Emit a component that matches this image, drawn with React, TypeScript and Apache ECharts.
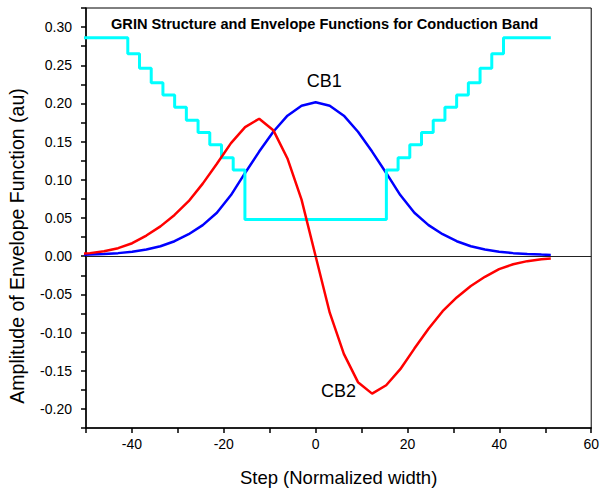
import React, { useEffect, useRef } from "react";
import * as echarts from "echarts";

// Sample positions along the structure (normalized width units)
const sampleX = [
  -51.2, -49.15, -46.08, -43.01, -39.94, -36.86, -33.79, -30.72, -27.65, -24.58,
  -21.5, -18.43, -15.36, -12.29, -9.22, -6.14, -3.07, 0, 3.07, 6.14, 9.22, 12.29,
  15.36, 18.43, 21.5, 24.58, 27.65, 30.72, 33.79, 36.86, 39.94, 43.01, 46.08, 49.15, 51.2,
];

// Ground state envelope (CB1)
const cb1Values = [
  0.0017, 0.0021, 0.0029, 0.004, 0.0058, 0.0087, 0.013, 0.0196, 0.0288, 0.0407,
  0.0568, 0.08, 0.109, 0.137, 0.163, 0.184, 0.197, 0.2016, 0.197, 0.184, 0.163, 0.137,
  0.109, 0.08, 0.0568, 0.0407, 0.0288, 0.0196, 0.013, 0.0087, 0.0058, 0.004, 0.0029, 0.0021, 0.0017,
];

// First excited state envelope (CB2)
const cb2Values = [
  0.003, 0.004, 0.0065, 0.0105, 0.017, 0.027, 0.039, 0.054, 0.072, 0.095,
  0.121, 0.148, 0.169, 0.18, 0.165, 0.128, 0.074, 0, -0.074, -0.128, -0.165, -0.18,
  -0.169, -0.148, -0.121, -0.095, -0.072, -0.054, -0.039, -0.027, -0.017, -0.0105, -0.0065, -0.004, -0.003,
];

// GRIN profile: positions of the steps and the level of each flat segment
const grinStart = -51.2;
const grinEnd = 51.2;
const grinEdges = [
  -40.9, -38.35, -35.8, -33.25, -30.7, -28.15, -25.6, -23.05, -20.5, -17.95, -15.4,
  15.4, 17.95, 20.5, 23.05, 25.6, 28.15, 30.7, 33.25, 35.8, 38.35, 40.9,
];
const grinLevels = [
  0.286, 0.265, 0.246, 0.227, 0.211, 0.195, 0.178, 0.162, 0.146, 0.129, 0.113,
  0.048,
  0.113, 0.129, 0.146, 0.162, 0.178, 0.195, 0.211, 0.227, 0.246, 0.265, 0.286,
];

// Curve annotations
const curveLabels = [
  { name: "CB1", x: 1.9, y: 0.23 },
  { name: "CB2", x: 5.0, y: -0.177 },
];

const FONT = "'Liberation Sans', Arial, Helvetica, sans-serif";

function buildGrin(): number[][] {
  const pts: number[][] = [[grinStart, grinLevels[0]]];
  grinEdges.forEach((x, i) => {
    pts.push([x, grinLevels[i]]);
    pts.push([x, grinLevels[i + 1]]);
  });
  pts.push([grinEnd, grinLevels[grinLevels.length - 1]]);
  return pts;
}

function labelPoint(name: string) {
  const l = curveLabels.find((c) => c.name === name)!;
  return {
    symbol: "rect",
    symbolSize: 1,
    itemStyle: { color: "rgba(0,0,0,0)" },
    label: {
      show: true,
      position: "inside",
      formatter: l.name,
      color: "#000",
      fontSize: 18,
      fontFamily: FONT,
    },
    data: [{ coord: [l.x, l.y] }],
  };
}

export default function App() {
  const ref = useRef<HTMLDivElement>(null);

  useEffect(() => {
    if (!ref.current) return;
    const chart = echarts.init(ref.current, undefined, { renderer: "svg" });
    const isMultiple = (v: number, step: number) =>
      Math.abs(v / step - Math.round(v / step)) < 1e-6;

    chart.setOption({
      animation: false,
      backgroundColor: "#fff",
      title: {
        text: "GRIN Structure and Envelope Functions for Conduction Band",
        left: 106,
        top: 11,
        textStyle: { fontSize: 14.6, fontWeight: "bold", color: "#000", fontFamily: FONT },
      },
      graphic: [
        {
          type: "text",
          left: 7,
          top: "middle",
          y: 11,
          rotation: Math.PI / 2,
          style: {
            text: "Amplitude of Envelope Function (au)",
            fontSize: 19.5,
            fill: "#000",
            fontFamily: FONT,
          },
        },
      ],
      grid: {
        left: 86,
        right: 9,
        top: 8,
        bottom: 63,
        show: true,
        borderColor: "#000",
        borderWidth: 1,
        backgroundColor: "transparent",
      },
      xAxis: {
        type: "value",
        min: -50,
        max: 60,
        interval: 10,
        name: "Step (Normalized width)",
        nameLocation: "middle",
        nameGap: 40,
        nameTextStyle: { fontSize: 18.5, color: "#000", fontFamily: FONT },
        axisLine: { onZero: false, lineStyle: { color: "#000", width: 1.5 } },
        axisTick: { length: 5, lineStyle: { color: "#000", width: 1.5 } },
        axisLabel: {
          fontSize: 14,
          color: "#000",
          fontFamily: FONT,
          margin: 9,
          showMinLabel: true,
          showMaxLabel: true,
          formatter: (v: number) => (isMultiple(v, 20) ? String(v) : ""),
        },
        splitLine: { show: false },
      },
      yAxis: {
        type: "value",
        min: -0.225,
        max: 0.325,
        interval: 0.025,
        axisLine: { onZero: false, lineStyle: { color: "#000", width: 1.5 } },
        axisTick: { length: 5, lineStyle: { color: "#000", width: 1.5 } },
        axisLabel: {
          fontSize: 14,
          color: "#000",
          fontFamily: FONT,
          margin: 14,
          formatter: (v: number) => (isMultiple(v, 0.05) ? v.toFixed(2) : ""),
        },
        splitLine: { show: false },
      },
      series: [
        {
          name: "CB1",
          type: "line",
          data: sampleX.map((x, i) => [x, cb1Values[i]]),
          smooth: false,
          showSymbol: false,
          lineStyle: { color: "#0000FF", width: 2.5 },
          markLine: {
            silent: true,
            symbol: ["none", "none"],
            label: { show: false },
            lineStyle: { color: "#222", width: 1, type: "solid" },
            data: [{ yAxis: 0 }],
          },
          markPoint: labelPoint("CB1"),
        },
        {
          name: "GRIN",
          type: "line",
          data: buildGrin(),
          showSymbol: false,
          lineStyle: { color: "#00FFFF", width: 3 },
        },
        {
          name: "CB2",
          type: "line",
          data: sampleX.map((x, i) => [x, cb2Values[i]]),
          showSymbol: false,
          lineStyle: { color: "#FF0000", width: 2.5 },
          markPoint: labelPoint("CB2"),
        },
      ],
    });
    return () => chart.dispose();
  }, []);

  return (
    <div
      ref={ref}
      style={{ position: "fixed", left: 0, top: 0, width: 602, height: 492 }}
    />
  );
}
